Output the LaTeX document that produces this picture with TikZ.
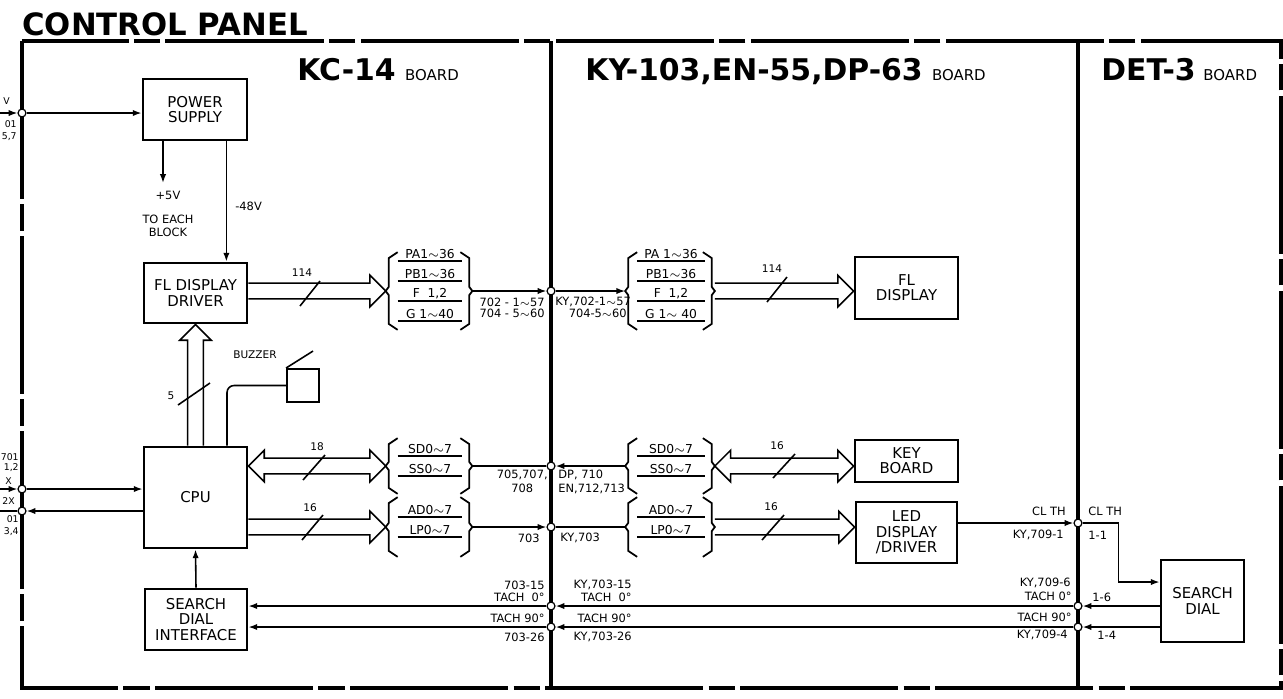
\documentclass[tikz,border=0pt]{standalone}
\usepackage{fontspec}
\setmainfont{DejaVu Sans}
\usetikzlibrary{arrows.meta, positioning, calc}

% hollow bus arrow, head at #2
\newcommand{\busto}[2]{%
  \path (#1) coordinate (ba) (#2) coordinate (bb);
  \path ($(bb)!9pt!(ba)$) coordinate (bc);
  \draw[busline] ($(ba)!4.5pt!90:(bb)$) -- ($(bc)!4.5pt!90:(bb)$) -- ($(bc)!9pt!90:(bb)$)
    -- (bb) -- ($(bc)!9pt!-90:(bb)$) -- ($(bc)!4.5pt!-90:(bb)$) -- ($(ba)!4.5pt!-90:(bb)$);
}
% hollow bus arrow, heads at both ends
\newcommand{\busboth}[2]{%
  \path (#1) coordinate (ba) (#2) coordinate (bb);
  \path ($(bb)!9pt!(ba)$) coordinate (bc) ($(ba)!9pt!(bb)$) coordinate (bd);
  \draw[busline] ($(bd)!4.5pt!90:(bb)$) -- ($(bc)!4.5pt!90:(bb)$) -- ($(bc)!9pt!90:(bb)$)
    -- (bb) -- ($(bc)!9pt!-90:(bb)$) -- ($(bc)!4.5pt!-90:(bb)$) -- ($(bd)!4.5pt!-90:(bb)$)
    -- ($(bd)!9pt!-90:(bb)$) -- (ba) -- ($(bd)!9pt!90:(bb)$) -- cycle;
}
% bracketed signal group: node, rows, labels
\newcommand{\brk}[3]{%
  \draw[brkline] ($(#1.north west)+(9,0)$) -- ++(-9,6) -- ($(#1.west)+(0,-4)$) -- ++(-3,4) -- ++(3,4)
    -- ($(#1.south west)+(0,-6)$) -- ++(9,6);
  \draw[brkline] ($(#1.north east)+(-9,0)$) -- ++(9,6) -- ($(#1.east)+(0,-4)$) -- ++(3,4) -- ++(-3,4)
    -- ($(#1.south east)+(0,-6)$) -- ++(-9,6);
  \foreach \t [count=\i] in {#3} {
    \node[rowtxt] at ($(#1.center)+(1,{20*(\i-(#2+1)/2)-7})$) {\t};
    \draw[brkline] ($(#1.west)+(9,{20*(\i-(#2+1)/2)})$) -- ($(#1.east)+(-7,{20*(\i-(#2+1)/2)})$);
  }
  \coordinate (#1-in) at ($(#1.west)+(-3,0)$);
  \coordinate (#1-out) at ($(#1.east)+(3,0)$);
}

\begin{document}
\begin{tikzpicture}[x=0.02cm, y=-0.02cm,
    box/.style={draw, line width=1.6pt, align=center, font=\fontsize{8.5}{8.7}\selectfont, inner sep=0pt},
    grp/.style={inner sep=0pt, minimum width=1.6cm},
    jn/.style={circle, draw, fill=white, inner sep=0pt, minimum size=4.5pt, line width=0.7pt},
    wire/.style={line width=0.9pt},
    arr/.style={wire, -{Latex[length=5pt, width=3.6pt]}},
    busline/.style={line width=0.9pt},
    brkline/.style={line width=1pt},
    slash/.style={line width=0.9pt},
    rowtxt/.style={font=\fontsize{7}{8}\selectfont, inner sep=0pt},
    lbl/.style={font=\fontsize{6.5}{7.5}\selectfont, inner sep=0pt},
    edge/.style={font=\fontsize{5.3}{6}\selectfont, inner sep=0pt, anchor=east},
    tiny/.style={font=\fontsize{6}{7}\selectfont, inner sep=0pt},
    hd/.style={font=\fontsize{17}{20}\selectfont\bfseries, inner sep=0pt, anchor=base west},
    hdsub/.style={font=\fontsize{8.5}{10}\selectfont, inner sep=0pt}
]
\useasboundingbox (0,0) rectangle (1283,698);

% frame and boards
\draw[line width=2pt, dash pattern=on 90pt off 3pt on 15pt off 3pt] (22,41) rectangle (1281,688);
\draw[line width=1.8pt] (551,41) -- (551,688);
\draw[line width=1.8pt] (1078,41) -- (1078,688);

\node[font=\fontsize{17.5}{20}\selectfont\bfseries, inner sep=0pt, anchor=base west] (title) at (22,35) {CONTROL PANEL};
\node[hd] (kc) at (297,80) {KC-14};
\node[hdsub, base right=5pt of kc] {BOARD};
\node[hd] (ky) at (585,80) {KY-103,EN-55,DP-63};
\node[hdsub, base right=5pt of ky] {BOARD};
\node[hd] (det) at (1101,80) {DET-3};
\node[hdsub, base right=4pt of det] {BOARD};

% blocks
\node[box, minimum width=2.08cm, minimum height=1.22cm] (psu) at (195,109.5) {POWER\\SUPPLY};
\node[box, minimum width=2.06cm, minimum height=1.2cm] (fldrv) at (195.5,293) {FL DISPLAY\\DRIVER};
\node[box, minimum width=2.06cm, minimum height=2.02cm] (cpu) at (195.5,497.5) {CPU};
\node[box, minimum width=2.04cm, minimum height=1.22cm] (sdi) at (196,619.5) {SEARCH\\DIAL\\INTERFACE};
\node[box, line width=1.1pt, minimum width=0.64cm, minimum height=0.66cm] (buzz) at (303,385.5) {};
\node[box, minimum width=2.06cm, minimum height=1.24cm] (fldisp) at (906.5,288) {FL\\DISPLAY};
\node[box, minimum width=2.06cm, minimum height=0.84cm] (keyb) at (906.5,461) {KEY\\BOARD};
\node[box, minimum width=2.02cm, minimum height=1.22cm] (led) at (906.5,532.5) {LED\\DISPLAY\\/DRIVER};
\node[box, minimum width=1.66cm, minimum height=1.64cm] (sdial) at (1202.5,601) {SEARCH\\DIAL};

% signal groups
\node[grp, minimum height=1.54cm] (paL) at (429,291) {};
\brk{paL}{4}{PA1$\sim$36, PB1$\sim$36, {F\ \ 1,2}, G\ 1$\sim$40}
\node[grp, minimum width=1.66cm, minimum height=1.54cm] (paR) at (670,291) {};
\brk{paR}{4}{PA\ 1$\sim$36, PB1$\sim$36, {F\ \ 1,2}, G\ 1$\sim$\ 40}
\node[grp, minimum height=1.1cm] (sdL) at (429,466) {};
\brk{sdL}{2}{SD0$\sim$7, SS0$\sim$7}
\node[grp, minimum width=1.66cm, minimum height=1.1cm] (sdR) at (670,466) {};
\brk{sdR}{2}{SD0$\sim$7, SS0$\sim$7}
\node[grp, minimum height=1.18cm] (adL) at (429,527) {};
\brk{adL}{2}{AD0$\sim$7, LP0$\sim$7}
\node[grp, minimum width=1.66cm, minimum height=1.18cm] (adR) at (670,527) {};
\brk{adR}{2}{AD0$\sim$7, LP0$\sim$7}

% junctions
\node[jn] (c0) at (22,113) {};
\node[jn] (c9) at (22,489) {};
\node[jn] (c10) at (22,511) {};
\node[jn] (jpa) at (551,291) {};
\node[jn] (jsd) at (551,466) {};
\node[jn] (jad) at (551,527) {};
\node[jn] (jt0) at (551,606) {};
\node[jn] (jt90) at (551,627) {};
\node[jn] (jcl) at (1078,523) {};
\node[jn] (kt0) at (1078,606) {};
\node[jn] (kt90) at (1078,627) {};

% power
\coordinate (acin) at (0,113);
\draw[arr] (acin) -- (c0);
\draw[arr] (c0) -- (psu.west |- c0);
\coordinate (p5) at (163,183);
\draw[arr] (psu.south -| p5) -- (p5);
\node[lbl, anchor=north, align=center] at (168,191) {+5V\\[6pt]TO EACH\\BLOCK};
\coordinate (m48) at ($(psu.south east)+(-22,0)$);
\draw[arr] (m48) -- (m48 |- fldrv.north);
\node[lbl, anchor=west] at (235,206) {-48V};

% FL display path
\busto{fldrv.east |- paL-in}{paL-in}
\draw[slash] (300,306) -- (320,281);
\node[tiny] at (302,273) {114};
\draw[arr] (paL-out) -- (jpa);
\draw[arr] (jpa) -- (paR-in);
\node[lbl, anchor=east] at (545,302) {702 - 1$\sim$57};
\node[lbl, anchor=east] at (545,313) {704 - 5$\sim$60};
\node[lbl, anchor=west] at (555,302) {KY,702-1$\sim$57};
\node[lbl, anchor=east] at (627,313) {704-5$\sim$60};
\busto{paR-out}{fldisp.west |- paR-out}
\draw[slash] (767,302) -- (787,277);
\node[tiny] at (772,269) {114};

% CPU buses
\busto{cpu.north}{fldrv.south}
\draw[slash] (178,405) -- (210,383);
\node[tiny] at (171,396) {5};
\busboth{cpu.east |- sdL-in}{sdL-in}
\draw[slash] (303,480) -- (325,455);
\node[tiny] at (317,447) {18};
\draw[wire] (sdL-out) -- (jsd);
\draw[arr] (sdR-in) -- (jsd);
\node[lbl, anchor=north east, align=center] at (548,470) {705,707,\\708};
\node[lbl, anchor=north west, align=left] at (558,470) {DP, 710\\EN,712,713};
\busboth{sdR-out}{keyb.west |- sdR-out}
\draw[slash] (773,478) -- (795,454);
\node[tiny] at (777,446) {16};
\busto{cpu.east |- adL-in}{adL-in}
\draw[slash] (302,540) -- (323,515);
\node[tiny] at (310,508) {16};
\draw[arr] (adL-out) -- (jad);
\draw[wire] (jad) -- (adR-in);
\node[lbl, anchor=east] at (540,538) {703};
\node[lbl, anchor=west] at (560,538) {KY,703};
\busto{adR-out}{led.west |- adR-out}
\draw[slash] (762,540) -- (784,515);
\node[tiny] at (771,507) {16};

% buzzer
\draw[wire, rounded corners=4pt] ($(cpu.north)+(31.5,0)$) |- (buzz.west);
\draw[wire] (buzz.north west) -- ++(27,-17);
\node[tiny] at (255,355) {BUZZER};

% CPU left side
\coordinate (xin) at (0,489);
\coordinate (xout) at (0,511);
\draw[arr] (xin) -- (c9);
\draw[arr] (c9) -- (cpu.west |- c9);
\draw[arr] (cpu.west |- c10) -- (c10);
\draw[wire] (c10) -- (xout);
\node[edge] at (10,101) {V};
\node[edge] at (17,124) {01};
\node[edge] at (17,137) {5,7};
\node[edge] at (19,457) {701};
\node[edge] at (19,468) {1,2};
\node[edge] at (12,481) {X};
\node[edge] at (15,501) {2X};
\node[edge] at (19,519) {01};
\node[edge] at (19,532) {3,4};

% search dial
\draw[arr] (sdi.north) -- (cpu.south);
\draw[arr] (led.east |- jcl) -- (jcl);
\coordinate (clk) at ($(sdial.west)+(0,-19)$);
\draw[arr] (jcl) -| ($(clk)+(-41,0)$) -- (clk);
\node[lbl, anchor=east] at (1066,511) {CL TH};
\node[lbl, anchor=east] at (1064,535) {KY,709-1};
\node[lbl, anchor=west] at (1088,511) {CL TH};
\node[lbl, anchor=west] at (1088,535) {1-1};
\draw[arr] (sdial.west |- kt0) -- (kt0);
\draw[arr] (kt0) -- (jt0);
\draw[arr] (jt0) -- (sdi.east |- jt0);
\draw[arr] (sdial.west |- kt90) -- (kt90);
\draw[arr] (kt90) -- (jt90);
\draw[arr] (jt90) -- (sdi.east |- jt90);
\node[lbl, anchor=east] at (545,585) {703-15};
\node[lbl, anchor=east] at (545,597) {TACH\ \ 0°};
\node[lbl, anchor=east] at (545,618) {TACH 90°};
\node[lbl, anchor=east] at (545,637) {703-26};
\node[lbl, anchor=east] at (632,585) {KY,703-15};
\node[lbl, anchor=east] at (632,597) {TACH\ \ 0°};
\node[lbl, anchor=east] at (632,618) {TACH 90°};
\node[lbl, anchor=east] at (632,637) {KY,703-26};
\node[lbl, anchor=east] at (1071,583) {KY,709-6};
\node[lbl, anchor=east] at (1072,596) {TACH 0°};
\node[lbl, anchor=east] at (1072,617) {TACH 90°};
\node[lbl, anchor=east] at (1068,635) {KY,709-4};
\node[lbl, anchor=west] at (1092,597) {1-6};
\node[lbl, anchor=west] at (1097,635) {1-4};
\end{tikzpicture}
\end{document}
